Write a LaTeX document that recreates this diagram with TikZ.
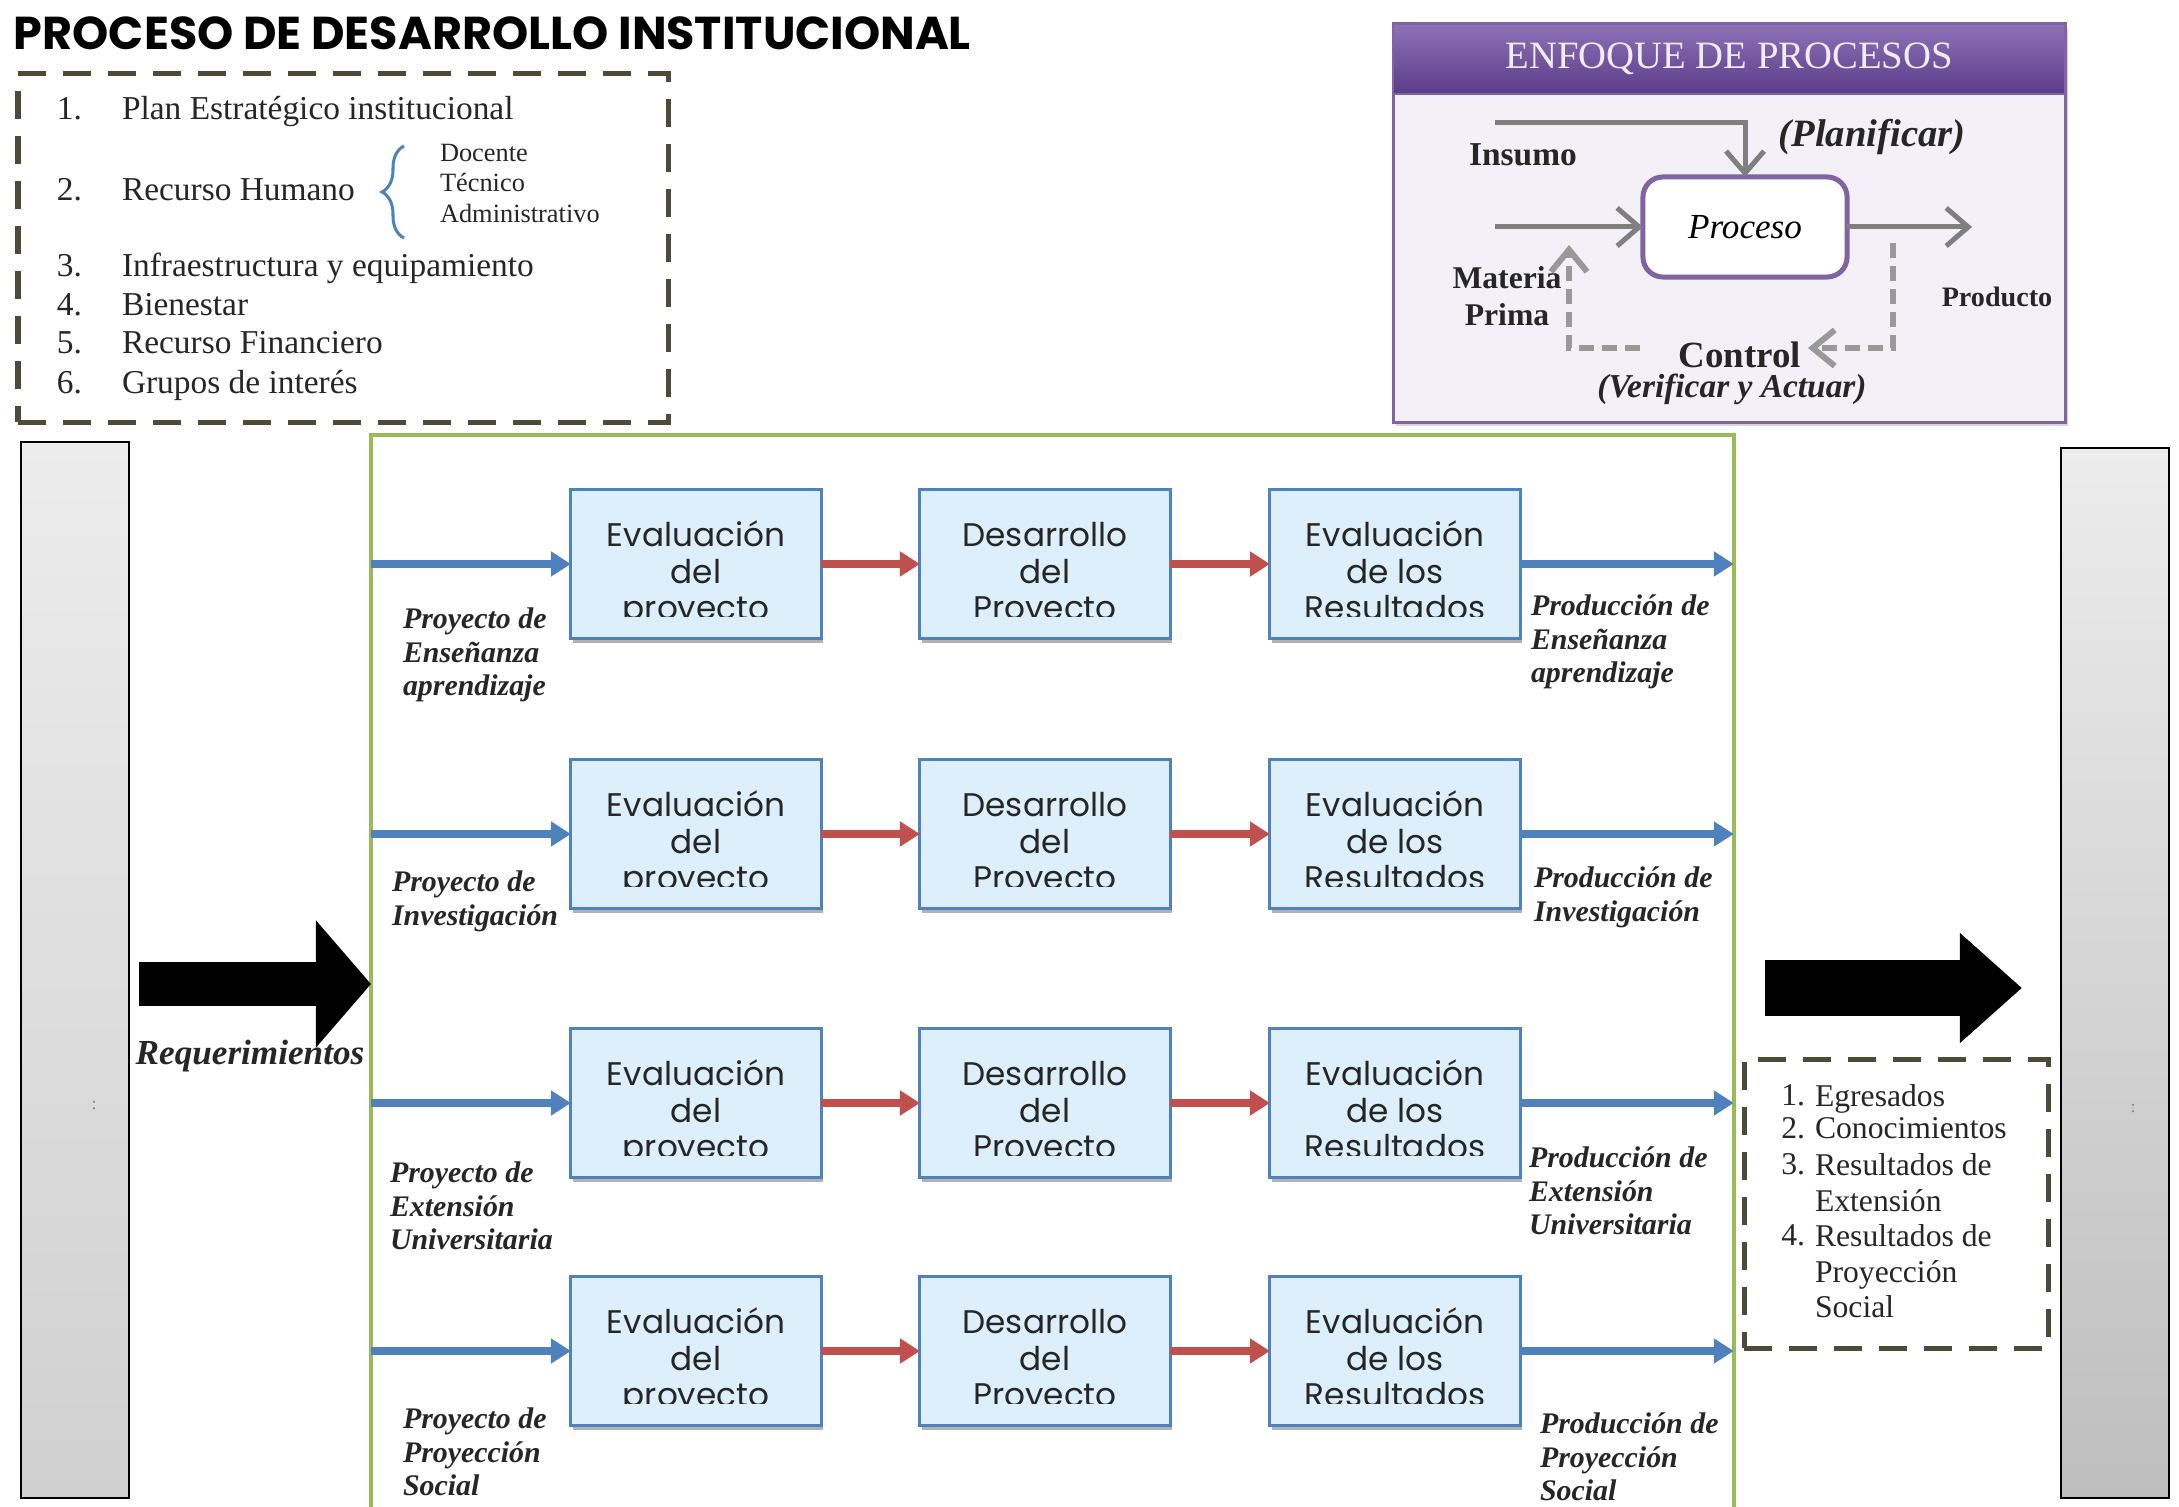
\documentclass[tikz,border=0pt]{standalone}
\usepackage{fontspec}
\setmainfont{Liberation Serif}
\newfontfamily\headfont{Poppins}
\newfontfamily\boxfont{Poppins}
\usetikzlibrary{arrows.meta,calc,shadows,decorations.pathreplacing}

\definecolor{boxblue}{HTML}{4F81BD}
\definecolor{boxfill}{HTML}{DCEFFA}
\definecolor{arrowred}{HTML}{C0504D}
\definecolor{framegreen}{HTML}{9BBB59}
\definecolor{olivedash}{HTML}{4B4B37}
\definecolor{enfpurple}{HTML}{8064A2}
\definecolor{enfdark}{HTML}{5B3C88}
\definecolor{enflight}{HTML}{8E72B8}
\definecolor{enfbg}{HTML}{F3F0F8}
\definecolor{enftext}{HTML}{F2ECF8}
\definecolor{arrowgray}{HTML}{7F7F7F}
\definecolor{dashgray}{HTML}{999999}
\definecolor{textdark}{HTML}{262626}
\definecolor{bartop}{HTML}{ECECEC}
\definecolor{lbarbot}{HTML}{D0D0D0}
\definecolor{rbarbot}{HTML}{BEBEBE}

\tikzset{
  every node/.style={inner sep=0pt, outer sep=0pt},
  dashbox/.style={draw=olivedash, line width=0.05cm, dash pattern=on 0.28cm off 0.17cm},
  listtxt/.style={font=\fontsize{9.5}{11}\selectfont, text=textdark, anchor=base west},
  subtxt/.style={font=\fontsize{7.5}{8.6}\selectfont, text=textdark, anchor=base west},
  pbox/.style={draw=boxblue, line width=0.03cm, fill=boxfill,
    minimum width=2.5cm, minimum height=1.48cm,
    drop shadow={shadow xshift=0.02cm, shadow yshift=-0.05cm, opacity=0.3, fill=black}},
  ptext/.style={font=\boxfont\fontsize{9.3}{10.4}\selectfont, align=center, text=textdark, anchor=base},
  bluearrow/.style={draw=boxblue, line width=0.08cm, -{Triangle[length=0.2cm,width=0.24cm]}},
  redarrow/.style={draw=arrowred, line width=0.08cm, -{Triangle[length=0.2cm,width=0.24cm]}},
  rowlabel/.style={font=\bfseries\itshape\fontsize{8.5}{9.5}\selectfont, align=left, anchor=north west, text=textdark},
  outtxt/.style={font=\fontsize{9}{10}\selectfont, align=left, anchor=north west, text=textdark},
  outnum/.style={font=\fontsize{9}{10}\selectfont, anchor=north east, text=textdark},
  sidebar/.style={draw=black, line width=0.02cm, top color=bartop, bottom color=#1,
    anchor=north west, minimum width=1.08cm},
  bigarrow/.style n args={3}{draw=black, line width=#1, -{Triangle[width=#2,length=#3]}},
  grayarrow/.style={draw=arrowgray, line width=0.05cm, -{Straight Barb[length=0.22cm,width=0.38cm]}},
  graydash/.style={draw=dashgray, line width=0.06cm, dash pattern=on 0.15cm off 0.08cm,
    -{Straight Barb[length=0.22cm,width=0.36cm]}},
  enftxt/.style={font=\bfseries\fontsize{9.5}{11}\selectfont, text=textdark},
}

\begin{document}
\begin{tikzpicture}[x=0.01cm, y=-0.01cm]
\useasboundingbox[fill=white] (0,0) rectangle (2179,1507);

% ---- title ----
\node[font=\headfont\bfseries\fontsize{13.1}{15}\selectfont, anchor=west] (title) at (14,33)
  {PROCESO DE DESARROLLO INSTITUCIONAL};

% ---- resources box ----
\node[dashbox, minimum width=6.5cm, minimum height=3.48cm, anchor=north west] (resbox) at (18,74) {};
\foreach \n/\t/\y in {1/Plan Estratégico institucional/120, 2/Recurso Humano/201,
    3/Infraestructura y equipamiento/277, 4/Bienestar/316, 5/Recurso Financiero/354,
    6/Grupos de interés/394} {
  \node[listtxt] (n\n) at (57,\y) {\n.};
  \node[listtxt] (t\n) at (122,\y) {\t};
}
\draw[boxblue, line width=0.03cm, decorate, decoration={brace, amplitude=0.22cm}]
  (404,238) -- (404,146);
\node[subtxt] (doc) at (440,162) {Docente};
\node[subtxt] (tec) at (440,192) {Técnico};
\node[subtxt] (adm) at (440,223) {Administrativo};

% ---- process approach panel ----
\node[fill=enfbg, draw=enfpurple, line width=0.03cm, minimum width=6.72cm, minimum height=3.98cm,
  anchor=north west, drop shadow={shadow xshift=0.03cm, shadow yshift=-0.04cm, opacity=0.3}]
  (enf) at (1393,24) {};
\node[top color=enflight, bottom color=enfdark, draw=enfpurple, line width=0.02cm,
  minimum width=6.72cm, minimum height=0.70cm, anchor=north west] (enfhead) at (1393,24) {};
\node[font=\fontsize{11}{13}\selectfont, text=enftext] (enftitle) at (enfhead.center) {ENFOQUE DE PROCESOS};

\node[draw=enfpurple, line width=0.05cm, fill=white, rounded corners=0.2cm,
  minimum width=2.04cm, minimum height=1.0cm, font=\itshape\fontsize{10}{12}\selectfont] (proc)
  at (1745,227) {Proceso};
\node[enftxt] (insumo) at (1523,155) {Insumo};
\node[font=\bfseries\itshape\fontsize{11}{13}\selectfont, text=textdark] (plan) at (1872,137) {(Planificar)};
\node[enftxt, align=center, font=\bfseries\fontsize{9}{10.6}\selectfont] (materia) at (1507,296) {Materia\\Prima};
\node[enftxt, font=\bfseries\fontsize{8}{9}\selectfont] (producto) at (1997,297) {Producto};
\node[font=\bfseries\fontsize{10.5}{12}\selectfont, text=textdark] (control) at (1740,355) {Control};
\node[font=\bfseries\itshape\fontsize{9.5}{11}\selectfont, text=textdark] (verif) at (1732,389) {(Verificar y Actuar)};

\coordinate (insS) at (1495,123);
\coordinate (matS) at (1495,227);
\coordinate (prodE) at (1972,227);
\coordinate (fbR) at (1893,243);
\coordinate (fbL) at (1640,348);
\coordinate (fbTipR) at (1808,348);
\coordinate (fbTipL) at (1569,245);
\draw[grayarrow] (insS) -| (proc.north);
\draw[grayarrow] (matS) -- (proc.west);
\draw[grayarrow] (proc.east) -- (prodE);
\draw[graydash] (fbR) |- (fbTipR);
\draw[graydash] (fbL) -| (fbTipL);

% ---- side bars ----
\node[sidebar=lbarbot, minimum height=10.55cm] (lbar) at (21,442) {};
\node[sidebar=rbarbot, minimum height=10.49cm] (rbar) at (2061,448) {};
\node[font=\fontsize{5}{6}\selectfont, text=gray] (ldot) at (94,1105) {:};
\node[font=\fontsize{5}{6}\selectfont, text=gray] (rdot) at (2133,1108) {:};

% ---- main frame ----
\node[draw=framegreen, line width=0.04cm, minimum width=13.62cm, minimum height=10.9cm,
  anchor=north west] (main) at (371,435) {};

% ---- process rows ----
\foreach \r/\y in {1/564, 2/834, 3/1103, 4/1351} {
  \node[pbox] (ev\r) at (696,\y) {};
  \node[pbox] (de\r) at (1045,\y) {};
  \node[pbox] (re\r) at (1395,\y) {};
  \foreach \b/\txt in {ev/{Evaluación\\del\\proyecto}, de/{Desarrollo\\del\\Proyecto},
      re/{Evaluación\\de los\\Resultados}} {
    \begin{scope}
      \clip ($(\b\r.north west)+(3,3)$) rectangle ($(\b\r.north east)+(-3,127)$);
      \node[ptext] at ($(\b\r.north)+(0,130)$) {\txt};
    \end{scope}
  }
  \draw[bluearrow] (main.west |- ev\r.west) -- (ev\r.west);
  \draw[redarrow] (ev\r.east) -- (de\r.west);
  \draw[redarrow] (de\r.east) -- (re\r.west);
  \draw[bluearrow] (re\r.east) -- (main.east |- re\r.east);
}

% ---- row labels ----
\node[rowlabel] (in1) at (403,608) {Proyecto de\\Enseñanza\\aprendizaje};
\node[rowlabel] (out1) at (1531,595) {Producción de\\Enseñanza\\aprendizaje};
\node[rowlabel] (in2) at (392,871) {Proyecto de\\Investigación};
\node[rowlabel] (out2) at (1534,867) {Producción de\\Investigación};
\node[rowlabel] (in3) at (390,1162) {Proyecto de\\Extensión\\Universitaria};
\node[rowlabel] (out3) at (1529,1147) {Producción de\\Extensión\\Universitaria};
\node[rowlabel] (in4) at (403,1408) {Proyecto de\\Proyección\\Social};
\node[rowlabel] (out4) at (1540,1413) {Producción de\\Proyección\\Social};

% ---- requirements and results arrows ----
\coordinate (reqS) at (139,984);
\draw[bigarrow={0.44cm}{1.24cm}{0.55cm}] (reqS) -- (main.west |- reqS);
\node[font=\bfseries\itshape\fontsize{10}{12}\selectfont, text=textdark] (req) at (250,1056) {Requerimientos};
\coordinate (resS) at (1765,988);
\draw[bigarrow={0.55cm}{1.06cm}{0.62cm}, shorten >=0.39cm] (resS) -- (rbar.west |- resS);

% ---- results box ----
\node[dashbox, minimum width=3.04cm, minimum height=2.89cm, anchor=north west] (outbox) at (1744,1059) {};
\node[outnum] (o1) at (1805,1085) {1.};
\node[outtxt] (p1) at (1815,1085) {Egresados};
\node[outnum] (o2) at (1805,1118) {2.};
\node[outtxt] (p2) at (1815,1118) {Conocimientos};
\node[outnum] (o3) at (1805,1154) {3.};
\node[outtxt] (p3) at (1815,1154) {Resultados de\\Extensión};
\node[outnum] (o4) at (1805,1225) {4.};
\node[outtxt] (p4) at (1815,1225) {Resultados de\\Proyección\\Social};
\end{tikzpicture}
\end{document}
